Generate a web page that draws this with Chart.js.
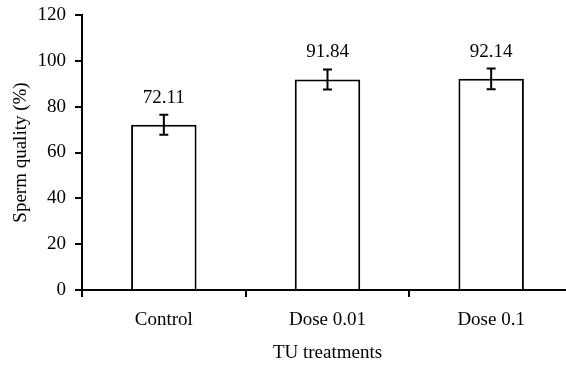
<!DOCTYPE html>
<html>
<head>
<meta charset="utf-8">
<script src="https://cdn.jsdelivr.net/npm/chart.js@4"></script>
<style>
  html, body { margin: 0; padding: 0; background: #fff; overflow: hidden; }
  #wrap { width: 574px; height: 366px; }
</style>
</head>
<body>
<div id="wrap"><canvas id="myChart" width="574" height="366"></canvas></div>
<script>
var categories = ["Control", "Dose 0.01", "Dose 0.1"];
var values = [72.11, 91.84, 92.14];
var errors = [4.4, 4.4, 4.5];
var yTicks = [0, 20, 40, 60, 80, 100, 120];

var serif = "'Liberation Serif', 'Times New Roman', serif";

// error bars + value labels drawn above each bar
var errorBarPlugin = {
    id: 'errorBars',
    afterDatasetsDraw: function(chart){
        var ctx = chart.ctx;
        var meta = chart.getDatasetMeta(0);
        var y = chart.scales.y;
        ctx.save();
        ctx.strokeStyle = "#000";
        ctx.lineWidth = 2;
        ctx.fillStyle = "#000";
        ctx.font = "19px " + serif;
        ctx.textAlign = "center";
        ctx.textBaseline = "alphabetic";
        meta.data.forEach(function(bar, i){
            var x = bar.x;
            var top = y.getPixelForValue(values[i] + errors[i]);
            var bot = y.getPixelForValue(values[i] - errors[i]);
            ctx.beginPath();
            ctx.moveTo(x, top); ctx.lineTo(x, bot);
            ctx.moveTo(x - 4.5, top); ctx.lineTo(x + 4.5, top);
            ctx.moveTo(x - 4.5, bot); ctx.lineTo(x + 4.5, bot);
            ctx.stroke();
            ctx.fillText(values[i].toFixed(2), x, top - 12);
        });
        ctx.restore();
    }
};

var ctx = document.getElementById("myChart");
var myChart = new Chart(ctx, {
    type: 'bar',
    data: {
        labels: categories,
        datasets: [{
            data: values,
            backgroundColor: "#ffffff",
            borderColor: "#000000",
            borderWidth: 2,
            barPercentage: 0.4,
            categoryPercentage: 1.0
        }]
    },
    options: {
        responsive: false,
        animation: false,
        layout: { padding: { left: 3, right: 1, top: 15, bottom: 0 } },
        plugins: {
            legend: { display: false },
            tooltip: { enabled: false }
        },
        scales: {
            x: {
                offset: true,
                grid: { offset: true, drawOnChartArea: false, drawTicks: true, tickLength: 7, color: "#000", lineWidth: 2 },
                border: { color: "#000", width: 2 },
                ticks: { color: "#000", font: { family: serif, size: 19 }, padding: 12 },
                title: { display: true, text: "TU treatments", color: "#000", font: { family: serif, size: 19 }, padding: { top: 0, bottom: 2 } },
                afterFit: function(scale){ scale.height = 76; }
            },
            y: {
                min: 0,
                max: 120,
                afterBuildTicks: function(scale){
                    scale.ticks = yTicks.map(function(v){ return { value: v }; });
                },
                grid: { drawOnChartArea: false, drawTicks: true, tickLength: 7, color: "#000", lineWidth: 2 },
                border: { color: "#000", width: 2 },
                ticks: { color: "#000", font: { family: serif, size: 19 }, padding: 9 },
                title: { display: true, text: "Sperm quality (%)", color: "#000", font: { family: serif, size: 19 }, padding: { top: 7, bottom: 0 } },
                afterFit: function(scale){
                    scale.width = 79;
                    scale.paddingTop = 0;
                    scale.paddingBottom = 0;
                }
            }
        }
    },
    plugins: [errorBarPlugin]
});
</script>
</body>
</html>
